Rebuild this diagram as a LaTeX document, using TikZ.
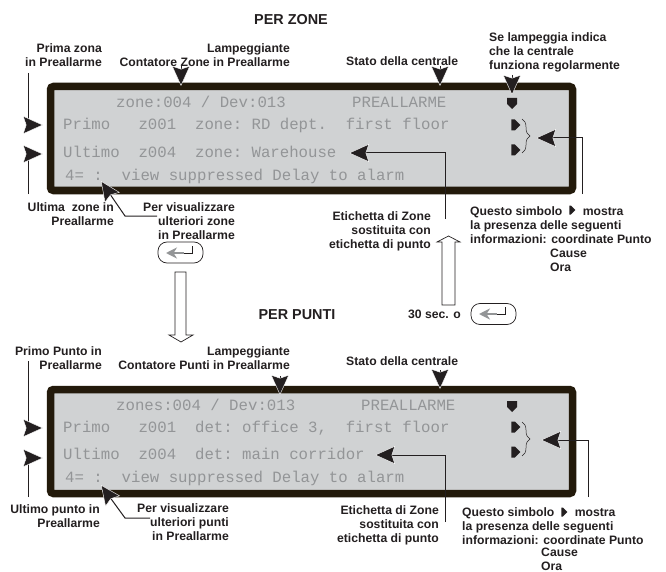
\documentclass[tikz,border=0pt]{standalone}
\usepackage{fontspec}
\setmainfont{Liberation Sans}
\setmonofont{Liberation Mono}
\usetikzlibrary{arrows.meta,shapes.symbols,decorations.pathreplacing}
\definecolor{lcdedge}{HTML}{231A0B}
\definecolor{lcdback}{HTML}{D0D2D3}
\definecolor{lcdink}{HTML}{939597}
\definecolor{inkdark}{HTML}{231F20}
\begin{document}
\begin{tikzpicture}[x=1pt,y=-1pt]
	\tikzstyle{lcd}=[draw=lcdedge,fill=lcdback,line width=7.5pt,rounded corners=3pt]
	\tikzstyle{lcdtext}=[anchor=west,inner sep=0pt,text=lcdink,font=\ttfamily\fontsize{15.7}{16}\selectfont]
	\tikzstyle{lblr}=[anchor=east,align=right,inner sep=0pt,text=inkdark,font=\bfseries\fontsize{12.2}{14}\selectfont]
	\tikzstyle{lbll}=[anchor=west,align=left,inner sep=0pt,text=inkdark,font=\bfseries\fontsize{12.2}{14}\selectfont]
	\tikzstyle{title}=[inner sep=0pt,text=inkdark,font=\bfseries\fontsize{14.4}{16}\selectfont]
	\tikzstyle{pointer}=[draw=inkdark,line width=1pt,-{Stealth[length=20pt,width=18pt,inset=3pt,fill=inkdark,color=white,line width=.4pt]}]
	\tikzstyle{rmark}=[signal,signal to=east,fill=inkdark,inner sep=0pt,minimum width=9pt,minimum height=11pt]
	\tikzstyle{dmark}=[signal,signal to=south,fill=inkdark,inner sep=0pt,minimum width=10pt,minimum height=6pt]
	\tikzstyle{keycap}=[draw=inkdark,fill=white,line width=.7pt,rounded corners=9pt,minimum width=45pt,minimum height=21pt,inner sep=0pt]
	\tikzstyle{hollow}=[draw=inkdark,fill=white,line width=.7pt]
	\tikzstyle{keyarrow}=[draw=inkdark,line width=.6pt]
	\tikzstyle{keyhead}=[draw=lcdink,line width=2pt,-{Stealth[length=11pt,width=11pt,fill=lcdink,color=lcdink]}]

	\useasboundingbox (0,0) rectangle (666,572);

	% top panel
	\node[title] (tzone) at (291,20) {PER ZONE};
	\draw[lcd] (50.5,86.5) rectangle (572.5,190.5);
	\node[lcdtext] (z1a) at (116,102) {zone:004~/~Dev:013};
	\node[lcdtext] (z1b) at (352,102) {PREALLARME};
	\node[lcdtext] (z2) at (63,125) {Primo~~~z001~~zone:~RD~dept.~~first~floor};
	\node[lcdtext] (z3) at (63,152) {Ultimo~~z004~~zone:~Warehouse};
	\node[lcdtext] (z4) at (65,176) {4=~:~~view~suppressed~Delay~to~alarm};
	\node[dmark] (zled) at (512,101) {};
	\node[rmark] (zm1) at (513,125) {};
	\node[rmark] (zm2) at (513,150) {};
	\coordinate (zb1) at (522,119);
	\coordinate (zb2) at (522,153);
	\draw[inkdark,line width=.5pt,decorate,decoration={brace,amplitude=8pt}] (zb1) -- (zb2);

	\node[lblr] (zprima) at (102,55) {Prima zona\\in Preallarme};
	\node[lblr] (zcont) at (290,55) {Lampeggiante\\Contatore Zone in Preallarme};
	\node[lbll] (zstato) at (346,61) {Stato della centrale};
	\node[lbll] (zse) at (489,52) {Se lampeggia indica\\che la centrale\\funziona regolarmente};
	\node[lblr] (zult) at (114,214) {Ultima~ zone in\\Preallarme};
	\node[lblr] (zper) at (235,221) {Per visualizzare\\ulteriori zone\\in Preallarme};
	\node[lblr] (zeti) at (431,231) {Etichetta di Zone\\sostituita con\\etichetta di punto};
	\node[lbll] (zq1) at (470,225) {Questo simbolo \hspace{17pt}mostra\\la presenza delle seguenti\\informazioni: coordinate Punto};
	\node[lbll] (zq2) at (550,260) {Cause\\Ora};
	\node[rmark,minimum width=6pt,minimum height=9pt] (zqm) at (570,210) {};

	\coordinate (p1a) at (28,73);
	\coordinate (p1b) at (43,125);
	\coordinate (p2a) at (28,194);
	\coordinate (p2b) at (43,154);
	\coordinate (p3a) at (181,66);
	\coordinate (p3b) at (181,86);
	\coordinate (p4a) at (440,66);
	\coordinate (p4b) at (440,86);
	\coordinate (p5a) at (512,75);
	\coordinate (p5b) at (512,95);
	\coordinate (p6a) at (157,216);
	\coordinate (p6b) at (125,216);
	\coordinate (p6c) at (101,181);
	\coordinate (p7a) at (445,219);
	\coordinate (p7b) at (349,153);
	\coordinate (p8a) at (582,194);
	\coordinate (p8b) at (536,138);
	\draw[pointer] (p1a) |- (p1b);
	\draw[pointer] (p2a) |- (p2b);
	\draw[pointer] (p3a) -- (p3b);
	\draw[pointer] (p4a) -- (p4b);
	\draw[pointer] (p5a) -- (p5b);
	\draw[pointer] (p6a) -- (p6b) -- (p6c);
	\draw[pointer] (p7a) |- (p7b);
	\draw[pointer] (p8a) |- (p8b);

	% keys and big arrows
	\node[keycap] (key1) at (180.5,252.5) {};
	\coordinate (k1a) at (192,246);
	\coordinate (k1b) at (192,253);
	\coordinate (k1c) at (184,253);
	\coordinate (k1d) at (166,253);
	\draw[keyarrow] (k1a) -- (k1b) -- (k1c);
	\draw[keyhead] (k1c) -- (k1d);
	\node[keycap] (key2) at (493.5,314) {};
	\coordinate (k2a) at (505,307);
	\coordinate (k2b) at (505,314);
	\coordinate (k2c) at (497,314);
	\coordinate (k2d) at (479,314);
	\draw[keyarrow] (k2a) -- (k2b) -- (k2c);
	\draw[keyhead] (k2c) -- (k2d);
	\node[lblr] (tsec) at (461,314) {30 sec. o};
	\draw[hollow] (175,272) -- (186,272) -- (186,335) -- (193,335) -- (181,342) -- (169,335) -- (175,335) -- cycle;
	\draw[hollow] (442,305) -- (455,305) -- (455,242) -- (460,242) -- (448.5,236) -- (437,242) -- (442,242) -- cycle;

	% bottom panel
	\node[title] (tpunti) at (297,315) {PER PUNTI};
	\draw[lcd] (50.5,389.5) rectangle (572.5,493.5);
	\node[lcdtext] (d1a) at (116,405) {zones:004~/~Dev:013};
	\node[lcdtext] (d1b) at (361,405) {PREALLARME};
	\node[lcdtext] (d2) at (63,428) {Primo~~~z001~~det:~office~3,~~first~floor};
	\node[lcdtext] (d3) at (63,454) {Ultimo~~z004~~det:~main~corridor};
	\node[lcdtext] (d4) at (65,478) {4=~:~~view~suppressed~Delay~to~alarm};
	\node[dmark] (dled) at (512,404) {};
	\node[rmark] (dm1) at (513,427) {};
	\node[rmark] (dm2) at (513,452) {};
	\coordinate (db1) at (522,422);
	\coordinate (db2) at (522,456);
	\draw[inkdark,line width=.5pt,decorate,decoration={brace,amplitude=8pt}] (db1) -- (db2);

	\node[lblr] (dprimo) at (102,358) {Primo Punto in\\Preallarme};
	\node[lblr] (dcont) at (290,358) {Lampeggiante\\Contatore Punti in Preallarme};
	\node[lbll] (dstato) at (346,361) {Stato della centrale};
	\node[lblr] (dult) at (100,516) {Ultimo punto in\\Preallarme};
	\node[lblr] (dper) at (229,522) {Per visualizzare\\ulteriori punti\\in Preallarme};
	\node[lblr] (deti) at (439,525) {Etichetta di Zone\\sostituita con\\etichetta di punto};
	\node[lbll] (dq1) at (462,526) {Questo simbolo \hspace{17pt}mostra\\la presenza delle seguenti\\informazioni: coordinate Punto};
	\node[lbll] (dq2) at (541,559) {Cause\\Ora};
	\node[rmark,minimum width=6pt,minimum height=9pt] (dqm) at (562,512) {};

	\coordinate (q1a) at (28,361);
	\coordinate (q1b) at (43,428);
	\coordinate (q2a) at (28,497);
	\coordinate (q2b) at (43,458);
	\coordinate (q3a) at (280,376);
	\coordinate (q3b) at (280,395);
	\coordinate (q4a) at (440,370);
	\coordinate (q4b) at (440,389);
	\coordinate (q6a) at (150,518);
	\coordinate (q6b) at (125,518);
	\coordinate (q6c) at (101,485);
	\coordinate (q7a) at (445,522);
	\coordinate (q7b) at (375,455);
	\coordinate (q8a) at (588,497);
	\coordinate (q8b) at (541,440);
	\draw[pointer] (q1a) |- (q1b);
	\draw[pointer] (q2a) |- (q2b);
	\draw[pointer] (q3a) -- (q3b);
	\draw[pointer] (q4a) -- (q4b);
	\draw[pointer] (q6a) -- (q6b) -- (q6c);
	\draw[pointer] (q7a) |- (q7b);
	\draw[pointer] (q8a) |- (q8b);
\end{tikzpicture}
\end{document}
